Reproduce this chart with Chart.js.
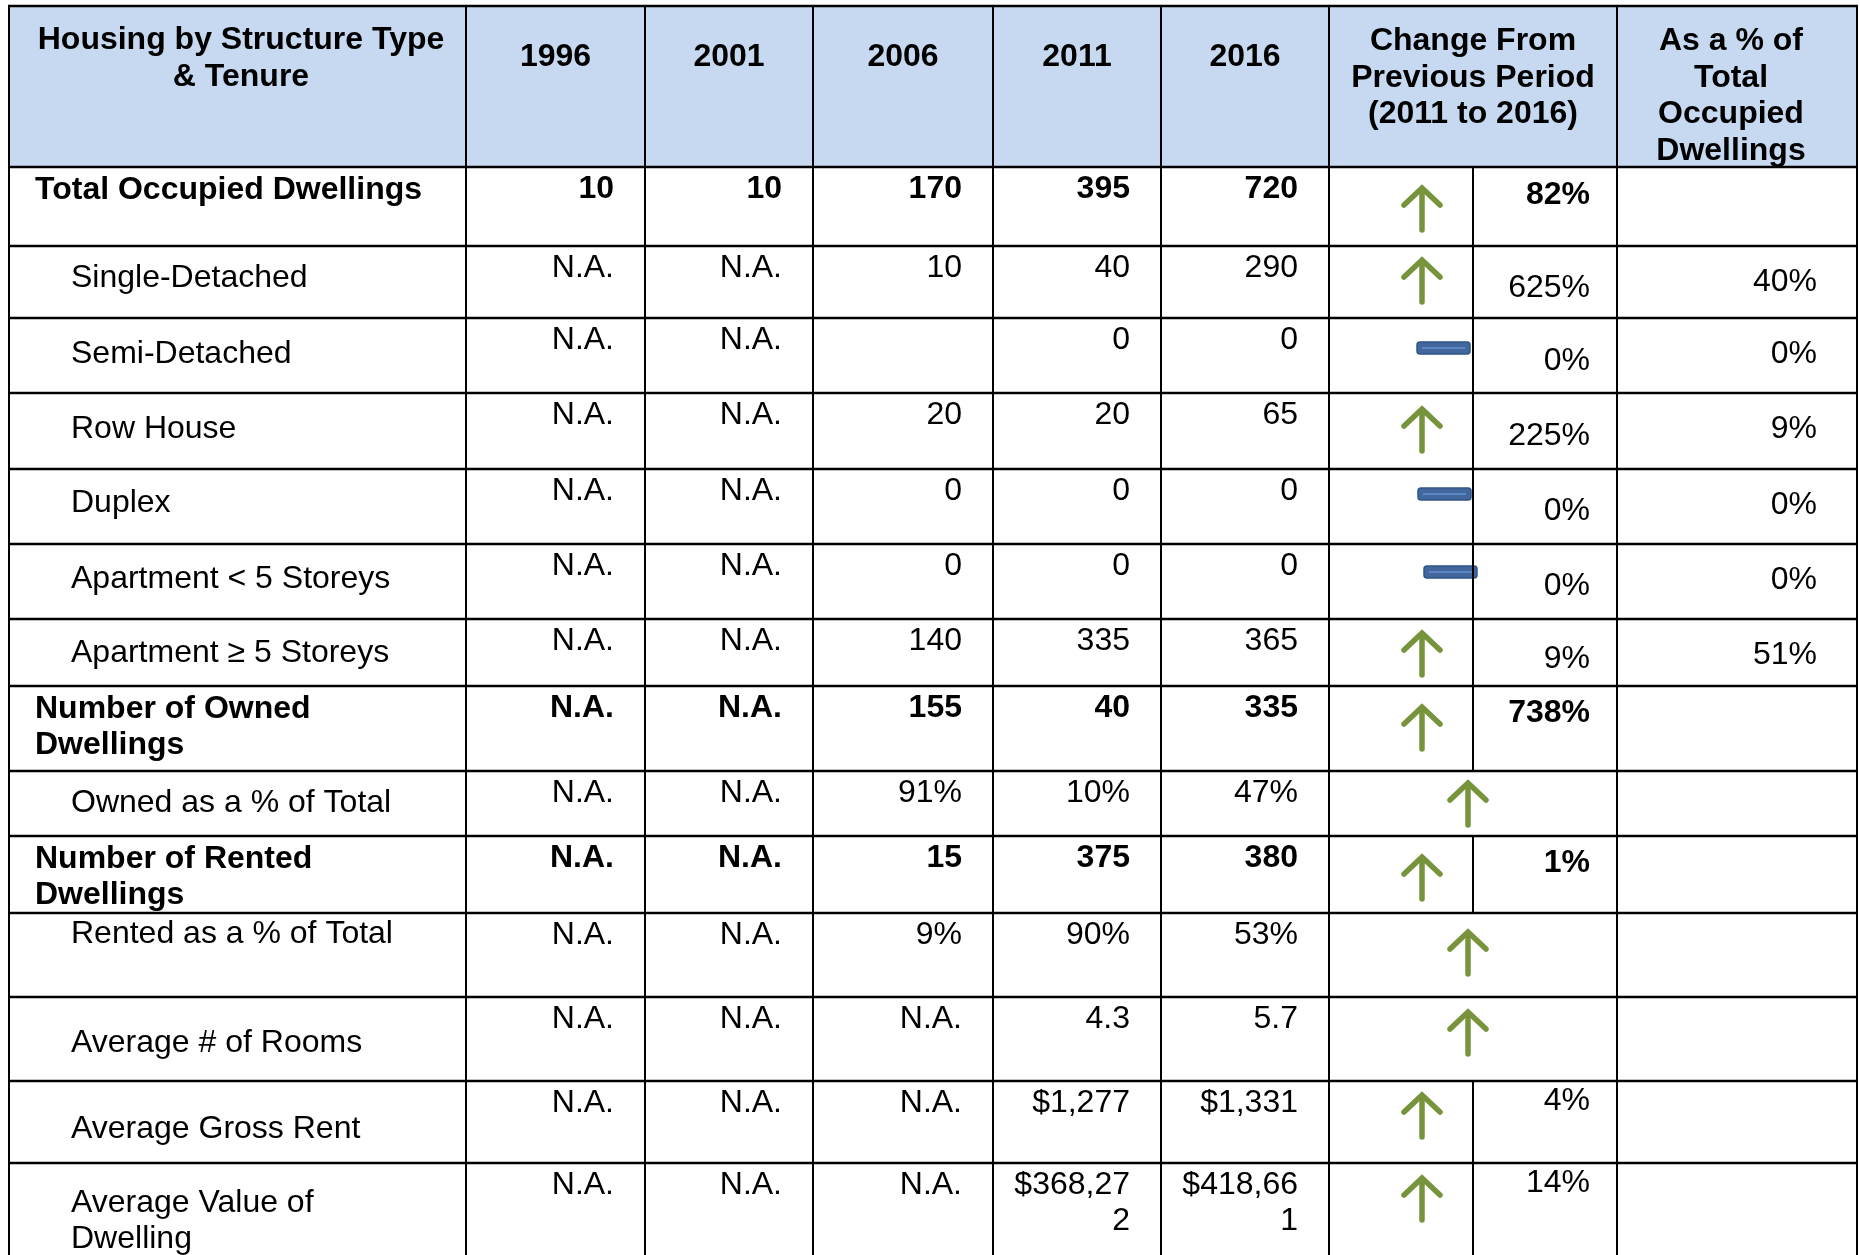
<!DOCTYPE html>
<html>
<head>
<meta charset="utf-8">
<title>Housing by Structure Type &amp; Tenure</title>
<script src="https://cdn.jsdelivr.net/npm/chart.js@4.4.1/dist/chart.umd.min.js"></script>
<style>
  html, body { margin: 0; padding: 0; background: #fff; }
  canvas { display: block; }
</style>
</head>
<body>
<canvas id="table" width="1860" height="1255"></canvas>
<script>
/* ═══════════════════════════════════
   Housing by Structure Type & Tenure — table drawn on a Chart.js canvas
   ═══════════════════════════════════ */

// ── Data ──
const stubTitle = 'Housing by Structure Type & Tenure';
const years = ['1996', '2001', '2006', '2011', '2016'];
const changeTitle = 'Change From Previous Period (2011 to 2016)';
const shareTitle = 'As a % of Total Occupied Dwellings';

const rowLabels = [
  'Total Occupied Dwellings', 'Single-Detached', 'Semi-Detached', 'Row House', 'Duplex',
  'Apartment < 5 Storeys', 'Apartment \u2265 5 Storeys', 'Number of Owned Dwellings',
  'Owned as a % of Total', 'Number of Rented Dwellings', 'Rented as a % of Total',
  'Average # of Rooms', 'Average Gross Rent', 'Average Value of Dwelling',
];
const v1996 = ['10', 'N.A.', 'N.A.', 'N.A.', 'N.A.', 'N.A.', 'N.A.', 'N.A.', 'N.A.', 'N.A.', 'N.A.', 'N.A.', 'N.A.', 'N.A.'];
const v2001 = ['10', 'N.A.', 'N.A.', 'N.A.', 'N.A.', 'N.A.', 'N.A.', 'N.A.', 'N.A.', 'N.A.', 'N.A.', 'N.A.', 'N.A.', 'N.A.'];
const v2006 = ['170', '10', '', '20', '0', '0', '140', '155', '91%', '15', '9%', 'N.A.', 'N.A.', 'N.A.'];
const v2011 = ['395', '40', '0', '20', '0', '0', '335', '40', '10%', '375', '90%', '4.3', '$1,277', '$368,272'];
const v2016 = ['720', '290', '0', '65', '0', '0', '365', '335', '47%', '380', '53%', '5.7', '$1,331', '$418,661'];
const yearValues = [v1996, v2001, v2006, v2011, v2016];
const changePct = ['82%', '625%', '0%', '225%', '0%', '0%', '9%', '738%', '', '1%', '', '', '4%', '14%'];
const changeDir = ['up', 'up', 'flat', 'up', 'flat', 'flat', 'up', 'up', 'up', 'up', 'up', 'up', 'up', 'up'];
const sharePct = ['', '40%', '0%', '9%', '0%', '0%', '51%', '', '', '', '', '', '', ''];

// ── Layout (table units, mapped to pixels through the chart scales) ──
const colEdges = [9, 466, 645, 813, 993, 1161, 1329, 1617, 1857];
const changeSplit = 1473;
const rowEdges = [6, 167, 246, 318, 393, 469, 544, 619, 686, 771, 836, 913, 997, 1081, 1163, 1300];
const totalRows = [0, 7, 9];
const mergedChange = [8, 10, 11];
const labelDy = [32, 41, 45, 45, 43, 44, 43, 32, 41, 32, 30, 55, 57, 49];
const changeDy = [37, 51, 52, 52, 51, 51, 49, 36, 0, 36, 0, 0, 29, 29];
const markDy = [20, 13, 30, 15, 25, 28, 13, 20, 11, 20, 18, 14, 13, 14];
const dashLeft = { 2: 1417, 4: 1418, 5: 1424 };

const FONT = '"Liberation Sans", Arial, sans-serif';
const HEADER_FILL = '#C6D9F1';
const ARROW_GREEN = '#77933C';
const LINE_GAP = 35.5;

// ── Helpers ──
function wrapWords(ctx, text, maxW) {
  const lines = [];
  let cur = '';
  text.split(' ').forEach(w => {
    const test = cur ? cur + ' ' + w : w;
    if (cur && ctx.measureText(test).width > maxW) { lines.push(cur); cur = w; }
    else cur = test;
  });
  if (cur) lines.push(cur);
  return lines;
}

function wrapChars(ctx, text, maxW) {
  const lines = [];
  let cur = '';
  for (const ch of text) {
    if (cur && ctx.measureText(cur + ch).width > maxW) { lines.push(cur); cur = ch; }
    else cur += ch;
  }
  if (cur) lines.push(cur);
  return lines;
}

const tablePlugin = {
  id: 'tablePlugin',
  afterDraw(chart) {
    const { ctx } = chart;
    const X = v => chart.scales.x.getPixelForValue(v);
    const Y = v => chart.scales.y.getPixelForValue(v);
    const W = (a, b) => X(b) - X(a);
    const left = colEdges[0], right = colEdges[colEdges.length - 1];
    const body = rowEdges.slice(1);

    ctx.save();
    // header band
    ctx.fillStyle = HEADER_FILL;
    ctx.fillRect(X(left), Y(rowEdges[0]), W(left, right), Y(rowEdges[1]) - Y(rowEdges[0]));

    // header texts
    ctx.fillStyle = '#000';
    ctx.textBaseline = 'alphabetic';
    ctx.font = `bold 32px ${FONT}`;
    ctx.textAlign = 'center';
    const headerBlock = (text, c0, c1, cx, firstBase) => {
      wrapWords(ctx, text, W(c0, c1) - 32).forEach((ln, i) => {
        ctx.fillText(ln, X(cx), Y(firstBase + i * 36.5));
      });
    };
    headerBlock(stubTitle, colEdges[0], colEdges[1], 241, 49);
    years.forEach((yr, i) => {
      ctx.fillText(yr, X((colEdges[i + 1] + colEdges[i + 2]) / 2), Y(66));
    });
    headerBlock(changeTitle, colEdges[6], colEdges[7], (colEdges[6] + colEdges[7]) / 2, 50);
    headerBlock(shareTitle, colEdges[7], colEdges[8], 1731, 50);

    // body rows
    rowLabels.forEach((label, r) => {
      const top = body[r];
      const isTotal = totalRows.includes(r);
      ctx.font = `${isTotal ? 'bold ' : ''}32px ${FONT}`;

      // stub label
      ctx.textAlign = 'left';
      const lx = isTotal ? 35 : 71;
      wrapWords(ctx, label, 430 - lx).forEach((ln, i) => {
        ctx.fillText(ln, X(lx), Y(top + labelDy[r] + i * LINE_GAP));
      });

      // year values
      ctx.textAlign = 'right';
      yearValues.forEach((series, c) => {
        const val = series[r];
        if (!val) return;
        const c0 = colEdges[c + 1], c1 = colEdges[c + 2];
        wrapChars(ctx, val, W(c0, c1) - 46).forEach((ln, i) => {
          ctx.fillText(ln, X(c1 - 31), Y(top + 31 + i * LINE_GAP));
        });
      });

      // change from previous period
      if (changePct[r]) ctx.fillText(changePct[r], X(colEdges[7] - 27), Y(top + changeDy[r]));
      // share of total
      if (sharePct[r]) ctx.fillText(sharePct[r], X(colEdges[8] - 40), Y(top + 45));

      // trend mark
      const merged = mergedChange.includes(r);
      if (changeDir[r] === 'up') {
        const cx = merged ? 1468 : 1422;
        const t = top + markDy[r];
        ctx.save();
        ctx.strokeStyle = ARROW_GREEN;
        ctx.lineWidth = 5.5;
        ctx.lineCap = 'round';
        ctx.lineJoin = 'miter';
        ctx.beginPath();
        ctx.moveTo(X(cx), Y(t + 2));
        ctx.lineTo(X(cx), Y(t + 43));
        ctx.stroke();
        ctx.beginPath();
        ctx.moveTo(X(cx - 18), Y(t + 18));
        ctx.lineTo(X(cx), Y(t + 1));
        ctx.lineTo(X(cx + 18), Y(t + 18));
        ctx.stroke();
        ctx.restore();
      } else if (changeDir[r] === 'flat') {
        const x0 = dashLeft[r], cy = top + markDy[r];
        ctx.save();
        ctx.beginPath();
        ctx.roundRect(X(x0), Y(cy - 6), W(x0, x0 + 53), Y(cy + 6) - Y(cy - 6), 3);
        ctx.fillStyle = '#41679E';
        ctx.fill();
        ctx.strokeStyle = '#2F5485';
        ctx.lineWidth = 1.5;
        ctx.stroke();
        ctx.beginPath();
        ctx.moveTo(X(x0 + 5), Y(cy));
        ctx.lineTo(X(x0 + 48), Y(cy));
        ctx.strokeStyle = '#6493D2';
        ctx.lineWidth = 1.5;
        ctx.stroke();
        ctx.restore();
      }
    });

    // grid lines
    ctx.strokeStyle = '#000';
    ctx.lineWidth = 2.6;
    rowEdges.forEach(yv => {
      ctx.beginPath();
      ctx.moveTo(X(left) - 1, Y(yv));
      ctx.lineTo(X(right) + 1, Y(yv));
      ctx.stroke();
    });
    ctx.lineWidth = 2;
    colEdges.forEach(xv => {
      ctx.beginPath();
      ctx.moveTo(X(xv), Y(rowEdges[0]));
      ctx.lineTo(X(xv), Y(rowEdges[rowEdges.length - 1]));
      ctx.stroke();
    });
    rowLabels.forEach((_, r) => {
      if (mergedChange.includes(r)) return;
      ctx.beginPath();
      ctx.moveTo(X(changeSplit), Y(body[r]));
      ctx.lineTo(X(changeSplit), Y(body[r + 1]));
      ctx.stroke();
    });
    ctx.restore();
  }
};

// ── Chart ──
new Chart(document.getElementById('table'), {
  type: 'scatter',
  data: { datasets: [{ data: [] }] },
  options: {
    responsive: false,
    animation: false,
    devicePixelRatio: 1,
    layout: { padding: 0 },
    plugins: { legend: { display: false }, tooltip: { enabled: false } },
    scales: {
      x: { type: 'linear', min: 0, max: 1860, display: false },
      y: { type: 'linear', min: 0, max: 1255, reverse: true, display: false },
    },
  },
  plugins: [tablePlugin],
});
</script>
</body>
</html>
